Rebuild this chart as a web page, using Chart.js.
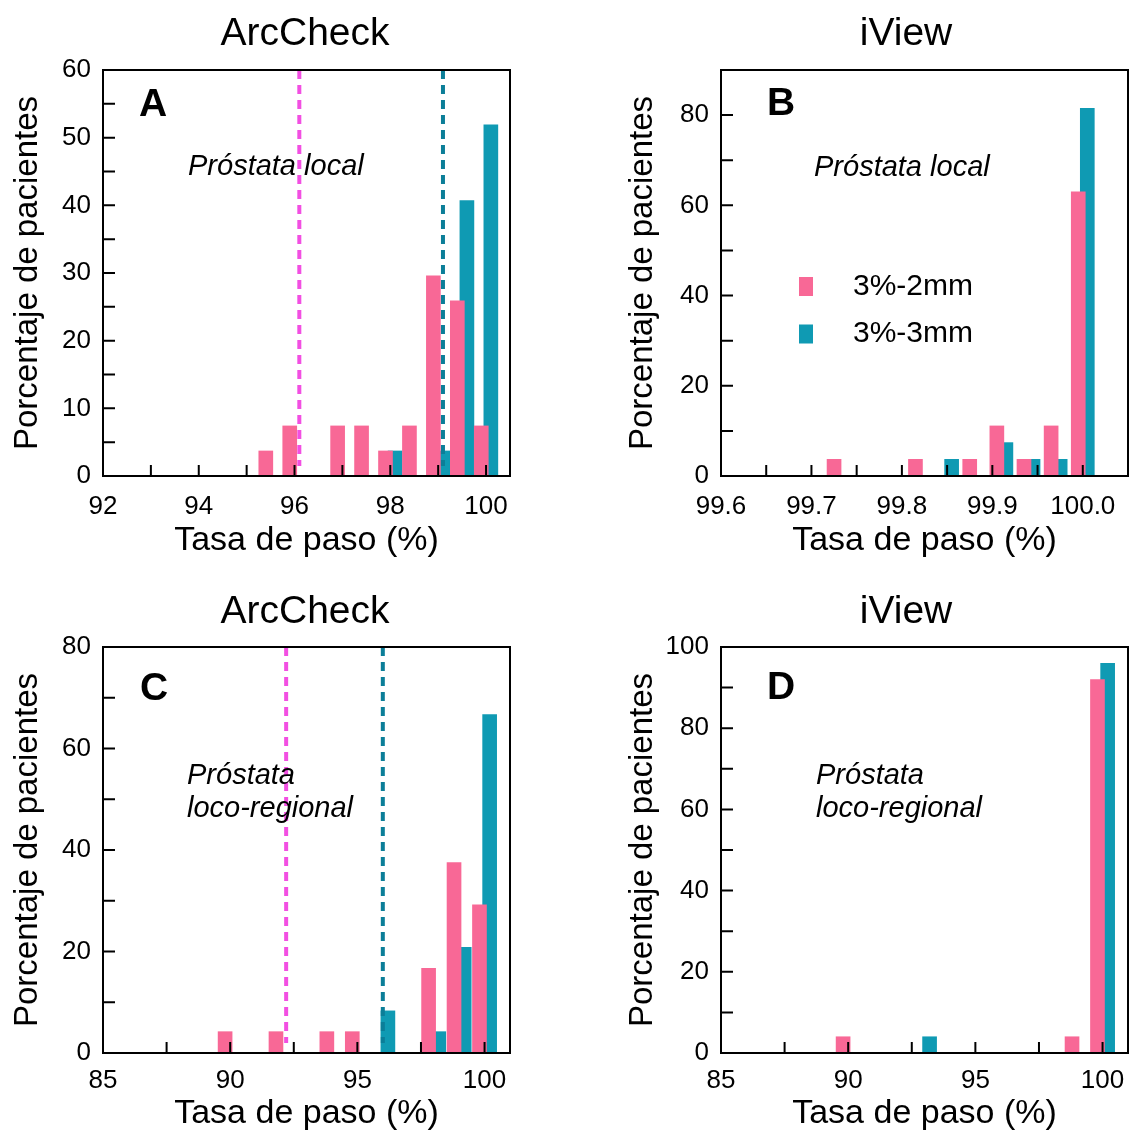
<!DOCTYPE html>
<html>
<head>
<meta charset="utf-8">
<script src="https://cdn.jsdelivr.net/npm/chart.js@4.4.1/dist/chart.umd.min.js"></script>
<style>
  body { margin: 0; background: #fff; }
  #wrap { position: relative; width: 1129px; height: 1142px; }
  canvas { position: absolute; }
</style>
</head>
<body>
<div id="wrap">
  <canvas id="chartA" width="565" height="575" style="left:0;top:0"></canvas>
  <canvas id="chartB" width="564" height="575" style="left:565px;top:0"></canvas>
  <canvas id="chartC" width="565" height="567" style="left:0;top:575px"></canvas>
  <canvas id="chartD" width="564" height="567" style="left:565px;top:575px"></canvas>
</div>
<script>
// series names
const seriesNames = ['3%-2mm', '3%-3mm'];

// A: ArcCheck, próstata local
const passA2 = [95.4, 95.9, 96.9, 97.4, 97.9, 98.4, 98.9, 99.4, 99.9];
const pctA2  = [3.7, 7.4, 7.4, 7.4, 3.7, 7.4, 29.6, 25.9, 7.4];
const passA3 = [98.1, 99.1, 99.6, 100.1];
const pctA3  = [3.7, 3.7, 40.7, 51.9];
const limitsA = [96.1, 99.1];

// B: iView, próstata local
const passB2 = [99.725, 99.815, 99.875, 99.905, 99.935, 99.965, 99.995];
const pctB2  = [3.7, 3.7, 3.7, 11.1, 3.7, 11.1, 63.0];
const passB3 = [99.855, 99.915, 99.945, 99.975, 100.005];
const pctB3  = [3.7, 7.4, 3.7, 3.7, 81.5];

// C: ArcCheck, próstata loco-regional
const passC2 = [89.8, 91.8, 93.8, 94.8, 97.8, 98.8, 99.8];
const pctC2  = [4.2, 4.2, 4.2, 4.2, 16.7, 37.5, 29.2];
const passC3 = [96.2, 98.2, 99.2, 100.2];
const pctC3  = [8.3, 4.2, 20.8, 66.7];
const limitsC = [92.2, 96.0];

// D: iView, próstata loco-regional
const passD2 = [89.8, 98.8, 99.8];
const pctD2  = [4, 4, 92];
const passD3 = [93.2, 100.2];
const pctD3  = [4, 96];

// tick labels
const xLabelsA = [92, 94, 96, 98, 100];
const xLabelsB = ['99.6', '99.7', '99.8', '99.9', '100.0'];
const xLabelsCD = [85, 90, 95, 100];
const yLabelsA = [0, 10, 20, 30, 40, 50, 60];
const yLabelsB = [0, 20, 40, 60, 80];
const yLabelsC = [0, 20, 40, 60, 80];
const yLabelsD = [0, 20, 40, 60, 80, 100];

const PINK = '#F86896';
const TEAL = '#0F9AB3';
const LINE_PINK = '#F24FE2';
const LINE_TEAL = '#0B7E98';

Chart.defaults.font.family = "'Liberation Sans', Arial, sans-serif";
Chart.defaults.color = '#000';

function toPoints(xs, ys) {
  return xs.map((x, i) => ({ x: x, y: ys[i] }));
}

function stepTicks(min, max, step) {
  const out = [];
  const n = Math.floor((max - min) / step + 1e-9);
  for (let i = 0; i <= n; i++) out.push({ value: +(min + i * step).toFixed(6) });
  return out;
}

function hasLabel(list, v) {
  return list.some(l => Math.abs(Number(l) - v) < 1e-6);
}

// frame, inward ticks, dashed limits and texts
const panelDecor = {
  id: 'panelDecor',
  afterDatasetsDraw(chart, args, o) {
    const ctx = chart.ctx;
    const a = chart.chartArea;
    const xs = chart.scales.x, ys = chart.scales.y;
    ctx.save();

    // threshold lines
    (o.limits || []).forEach((v, i) => {
      const px = xs.getPixelForValue(v);
      ctx.strokeStyle = i === 0 ? LINE_PINK : LINE_TEAL;
      ctx.lineWidth = 4;
      ctx.setLineDash([9, 6]);
      ctx.beginPath();
      ctx.moveTo(px, a.top);
      ctx.lineTo(px, a.bottom - 10);
      ctx.stroke();
    });
    ctx.setLineDash([]);

    // frame
    ctx.strokeStyle = '#000';
    ctx.lineWidth = 2;
    ctx.strokeRect(a.left, a.top, a.right - a.left, a.bottom - a.top);

    // inward ticks
    ctx.beginPath();
    xs.ticks.forEach(t => {
      const px = xs.getPixelForValue(t.value);
      if (px <= a.left + 2 || px >= a.right - 2) return;
      ctx.moveTo(px, a.bottom);
      ctx.lineTo(px, a.bottom - 11);
    });
    ys.ticks.forEach(t => {
      const py = ys.getPixelForValue(t.value);
      if (py <= a.top + 2 || py >= a.bottom - 2) return;
      ctx.moveTo(a.left, py);
      ctx.lineTo(a.left + 12, py);
    });
    ctx.stroke();

    // title
    ctx.fillStyle = '#000';
    ctx.textBaseline = 'middle';
    ctx.textAlign = 'center';
    ctx.font = "39px 'Liberation Sans', Arial";
    ctx.fillText(o.title, o.titleX, o.titleY);

    // panel letter
    ctx.font = "bold 39px 'Liberation Sans', Arial";
    ctx.fillText(o.letter, o.letterX, o.letterY);

    // annotation
    ctx.textAlign = 'left';
    ctx.textBaseline = 'alphabetic';
    ctx.font = "italic 29px 'Liberation Sans', Arial";
    o.note.forEach((line, i) => ctx.fillText(line, o.noteX, o.noteY + i * 33));

    // legend
    if (o.legend) {
      ctx.textBaseline = 'middle';
      ctx.font = "30px 'Liberation Sans', Arial";
      [PINK, TEAL].forEach((c, i) => {
        const cy = o.legend.y + i * 47.5;
        ctx.fillStyle = c;
        ctx.fillRect(o.legend.x, cy - 9.5, 14, 19);
        ctx.fillStyle = '#000';
        ctx.fillText(seriesNames[i], o.legend.x + 54, cy);
      });
    }
    ctx.restore();
  }
};

function makePanel(id, p) {
  new Chart(document.getElementById(id), {
    type: 'bar',
    data: {
      datasets: [
        { label: seriesNames[0], data: toPoints(p.x2, p.y2), backgroundColor: PINK },
        { label: seriesNames[1], data: toPoints(p.x3, p.y3), backgroundColor: TEAL }
      ]
    },
    options: {
      responsive: false,
      animation: false,
      layout: { padding: { left: 0, right: p.padRight, top: p.padTop, bottom: 0 } },
      datasets: { bar: { grouped: false, barThickness: 14, borderWidth: 0 } },
      plugins: {
        legend: { display: false },
        tooltip: { enabled: false },
        panelDecor: p.decor
      },
      scales: {
        x: {
          type: 'linear',
          offset: false,
          min: p.xMin, max: p.xMax,
          grid: { display: false, drawTicks: false },
          border: { display: false },
          afterBuildTicks: s => { s.ticks = stepTicks(p.xMin, p.xMax, p.xStep); },
          ticks: {
            autoSkip: false,
            maxRotation: 0,
            padding: p.xTickPad,
            font: { size: 26 },
            callback: v => hasLabel(p.xLabels, v) ? v.toFixed(p.xDec) : ''
          },
          title: {
            display: true,
            text: 'Tasa de paso (%)',
            font: { size: 34 },
            padding: { top: 0, bottom: p.xTitlePad }
          },
          afterFit: s => {
            s.height = p.xHeight;
            s.paddingLeft = 0;
            s.paddingRight = 0;
          }
        },
        y: {
          min: 0, max: p.yMax,
          grid: { display: false, drawTicks: false },
          border: { display: false },
          afterBuildTicks: s => { s.ticks = stepTicks(0, p.yMax, p.yStep); },
          ticks: {
            autoSkip: false,
            padding: 12,
            font: { size: 26 },
            callback: v => hasLabel(p.yLabels, v) ? String(v) : ''
          },
          title: {
            display: true,
            text: 'Porcentaje de pacientes',
            font: { size: 33 },
            padding: { top: p.yTitlePad, bottom: 0 }
          },
          afterFit: s => {
            s.width = p.yWidth;
            s.paddingTop = 0;
            s.paddingBottom = 0;
          }
        }
      }
    },
    plugins: [panelDecor]
  });
}

makePanel('chartA', {
  x2: passA2, y2: pctA2, x3: passA3, y3: pctA3,
  xMin: 92, xMax: 100.5, xStep: 1, xLabels: xLabelsA, xDec: 0,
  yMax: 60, yStep: 5, yLabels: yLabelsA,
  padRight: 55, padTop: 70, xHeight: 99, yWidth: 103,
  xTickPad: 15, xTitlePad: 14, yTitlePad: 8,
  decor: { limits: limitsA, title: 'ArcCheck', titleX: 305, titleY: 34,
           letter: 'A', letterX: 153, letterY: 105,
           note: ['Próstata local'], noteX: 188, noteY: 175 }
});

makePanel('chartB', {
  x2: passB2, y2: pctB2, x3: passB3, y3: pctB3,
  xMin: 99.6, xMax: 100.05, xStep: 0.05, xLabels: xLabelsB, xDec: 1,
  yMax: 90, yStep: 10, yLabels: yLabelsB,
  padRight: 1, padTop: 70, xHeight: 99, yWidth: 156,
  xTickPad: 15, xTitlePad: 14, yTitlePad: 58,
  decor: { limits: [], title: 'iView', titleX: 341, titleY: 34,
           letter: 'B', letterX: 216, letterY: 104,
           note: ['Próstata local'], noteX: 249, noteY: 176,
           legend: { x: 234, y: 286.5 } }
});

makePanel('chartC', {
  x2: passC2, y2: pctC2, x3: passC3, y3: pctC3,
  xMin: 85, xMax: 101, xStep: 2.5, xLabels: xLabelsCD, xDec: 0,
  yMax: 80, yStep: 10, yLabels: yLabelsC,
  padRight: 55, padTop: 72, xHeight: 89, yWidth: 103,
  xTickPad: 12, xTitlePad: 8, yTitlePad: 8,
  decor: { limits: limitsC, title: 'ArcCheck', titleX: 305, titleY: 37,
           letter: 'C', letterX: 154, letterY: 114,
           note: ['Próstata', 'loco-regional'], noteX: 187, noteY: 209 }
});

makePanel('chartD', {
  x2: passD2, y2: pctD2, x3: passD3, y3: pctD3,
  xMin: 85, xMax: 101, xStep: 2.5, xLabels: xLabelsCD, xDec: 0,
  yMax: 100, yStep: 10, yLabels: yLabelsD,
  padRight: 1, padTop: 72, xHeight: 89, yWidth: 156,
  xTickPad: 12, xTitlePad: 8, yTitlePad: 58,
  decor: { limits: [], title: 'iView', titleX: 341, titleY: 37,
           letter: 'D', letterX: 216, letterY: 113,
           note: ['Próstata', 'loco-regional'], noteX: 251, noteY: 209 }
});
</script>
</body>
</html>
